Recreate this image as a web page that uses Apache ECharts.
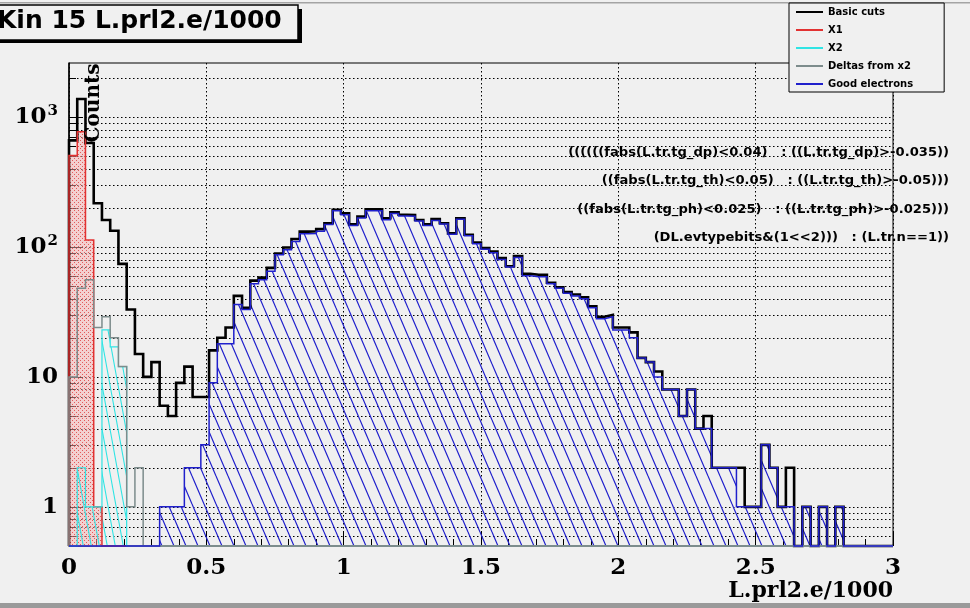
<!DOCTYPE html>
<html>
<head>
<meta charset="utf-8">
<script src="https://cdn.jsdelivr.net/npm/echarts@6/dist/echarts.min.js"></script>
<style>
  html, body { margin: 0; padding: 0; background: #f0f0f0; }
  #main { width: 970px; height: 608px; }
</style>
</head>
<body>
<div id="main"></div>
<script>
// binning of L.prl2.e/1000 : 100 bins of 0.03 starting at 0
const xStart = 0;
const binWidth = 0.03;
const nBins = 100;

// bin contents (counts)
const basicCuts = [
  660, 1375, 630, 217, 161, 133, 74, 33, 15, 10,
  13, 6, 5, 9, 12, 7, 7, 16, 20, 24,
  42, 34, 55, 58, 69, 89, 99, 115, 131, 132,
  137, 152, 193, 181, 149, 171, 195, 195, 166, 185,
  177, 176, 161, 149, 164, 152, 127, 166, 124, 108,
  98, 92, 82, 71, 85, 62, 61, 61, 53, 49,
  45, 43, 41, 35, 29, 30, 24, 24, 22, 14,
  13, 11, 8, 8, 5, 8, 4, 5, 2, 2,
  2, 2, 1, 1, 3, 2, 1, 2, 0, 1,
  0, 1, 0, 1, 0, 0, 0, 0, 0, 0
];
// first bins only, the rest are empty
const x1 = [504, 770, 113, 1];
const x2 = [0, 2, 1, 1, 23, 17, 12];
const deltasFromX2 = [10, 48, 56, 24, 29, 20, 12, 1, 2];
const goodElectrons = [
  0, 0, 0, 0, 0, 0, 0, 0, 0, 0,
  0, 1, 1, 1, 2, 2, 3, 9, 18, 18,
  36, 33, 52, 56, 65, 87, 95, 110, 126, 127,
  132, 149, 190, 177, 146, 167, 190, 190, 162, 181,
  173, 172, 158, 146, 160, 150, 125, 163, 122, 106,
  96, 90, 80, 70, 83, 60, 59, 59, 52, 48,
  44, 42, 40, 34, 28, 29, 23, 23, 20, 14,
  13, 10, 8, 8, 5, 8, 4, 4, 2, 2,
  2, 1, 1, 1, 3, 2, 1, 1, 0, 1,
  0, 1, 0, 1, 0, 0, 0, 0, 0, 0
];

const seriesNames = ['Basic cuts', 'X1', 'X2', 'Deltas from x2', 'Good electrons'];
const yGridValues = [0.6, 0.7, 0.8, 0.9, 1, 2, 3, 4, 5, 6, 7, 8, 9,
  10, 20, 30, 40, 50, 60, 70, 80, 90, 100, 200, 300, 400, 500, 600, 700, 800, 900, 1000, 2000];
const cutLines = [
  '((((((fabs(L.tr.tg_dp)<0.04)   : ((L.tr.tg_dp)>-0.035))',
  '((fabs(L.tr.tg_th)<0.05)   : ((L.tr.tg_th)>-0.05)))',
  '((fabs(L.tr.tg_ph)<0.025)   : ((L.tr.tg_ph)>-0.025)))',
  '(DL.evtypebits&(1<<2)))   : (L.tr.n==1))'
];

const yMin = 0.5;
const yMax = 2600;

// histogram -> step polyline (empty bins sit on the frame bottom)
function stepPoints(vals) {
  const pts = [[xStart, yMin]];
  for (let i = 0; i < nBins; i++) {
    const v = vals[i] > 0 ? vals[i] : yMin;
    pts.push([xStart + i * binWidth, v], [xStart + (i + 1) * binWidth, v]);
  }
  pts.push([xStart + nBins * binWidth, yMin]);
  return pts;
}

function hatch(color, w, h, lw) {
  const c = document.createElement('canvas');
  c.width = w; c.height = h;
  const g = c.getContext('2d');
  g.strokeStyle = color; g.lineWidth = lw;
  g.beginPath();
  [-w, 0, w].forEach(dx => { g.moveTo(dx, 0); g.lineTo(dx + w, h); });
  g.stroke();
  return c;
}

function dots() {
  const c = document.createElement('canvas');
  c.width = 4; c.height = 4;
  const g = c.getContext('2d');
  g.fillStyle = 'rgba(245,175,175,0.5)';
  g.fillRect(0, 0, 4, 4);
  g.fillStyle = 'rgba(225,70,70,0.85)';
  g.fillRect(0, 0, 1, 1);
  g.fillRect(2, 2, 1, 1);
  return c;
}

function histSeries(name, vals, color, width, fill) {
  const s = {
    name: name,
    type: 'line',
    data: stepPoints(vals),
    symbol: 'none',
    showSymbol: false,
    clip: false,
    silent: true,
    animation: false,
    z: 3,
    itemStyle: { color: color },
    lineStyle: { color: color, width: width, join: 'miter', cap: 'butt' }
  };
  if (fill) s.areaStyle = { color: { image: fill, repeat: 'repeat' }, origin: 'start', opacity: 1 };
  return s;
}

const serif = 'DejaVu Serif';
const sans = 'DejaVu Sans';

const chart = echarts.init(document.getElementById('main'), null, { renderer: 'canvas' });

const option = {
  backgroundColor: '#f0f0f0',
  animation: false,
  grid: {
    left: 69, right: 77, top: 63, bottom: 62,
    show: true, borderColor: '#000', borderWidth: 1, backgroundColor: 'transparent'
  },
  legend: {
    left: 789, top: 3, orient: 'vertical',
    padding: [4, 31, 3, 7], itemGap: 8,
    itemWidth: 27, itemHeight: 2, icon: 'rect',
    borderColor: '#000', borderWidth: 1, backgroundColor: '#f0f0f0',
    selectedMode: false,
    textStyle: { fontFamily: sans, fontWeight: 'bold', fontSize: 10, color: '#000' },
    data: seriesNames
  },
  xAxis: {
    type: 'value', min: 0, max: 3, interval: 0.5,
    axisLine: { show: false },
    axisTick: { show: true, inside: true, length: 14, lineStyle: { color: '#000' } },
    minorTick: { show: true, splitNumber: 5, length: 7, lineStyle: { color: '#000' } },
    splitLine: { show: true, lineStyle: { color: '#000', width: 1, type: [1.5, 2.5] } },
    axisLabel: { margin: 11, fontFamily: serif, fontWeight: 'bold', fontSize: 23, color: '#000' }
  },
  yAxis: {
    type: 'log', logBase: 10, min: yMin, max: yMax,
    axisLine: { show: true, lineStyle: { color: '#000', width: 1.5 } },
    axisTick: { show: false },
    splitLine: { show: false },
    axisLabel: {
      margin: 11, showMinLabel: false, showMaxLabel: false,
      formatter: function (v) {
        const e = Math.log10(v);
        const r = Math.round(e);
        if (Math.abs(e - r) > 1e-6) return '';
        if (r === 0) return '{b|1}';
        if (r === 1) return '{b|10}';
        return '{b|10}{s|' + r + '}';
      },
      rich: {
        b: { fontFamily: serif, fontWeight: 'bold', fontSize: 23, color: '#000', lineHeight: 26 },
        s: { fontFamily: serif, fontWeight: 'bold', fontSize: 15, color: '#000', verticalAlign: 'top', lineHeight: 26, padding: [0, 0, 0, 1] }
      }
    }
  },
  graphic: [
    { type: 'rect', shape: { x: 0, y: 2, width: 970, height: 1.5 }, style: { fill: '#a4a4a4' }, silent: true },
    { type: 'rect', shape: { x: 0, y: 603, width: 970, height: 5 }, style: { fill: '#9a9a9a' }, silent: true },
    { type: 'rect', shape: { x: -6, y: 9, width: 308, height: 34 }, style: { fill: '#000' }, silent: true, z: 10 },
    { type: 'rect', shape: { x: -10, y: 5, width: 308, height: 35 }, style: { fill: '#f0f0f0', stroke: '#000', lineWidth: 1.5 }, silent: true, z: 11 },
    { type: 'text', x: -3, y: 21, z: 12, silent: true,
      style: { text: 'Kin 15 L.prl2.e/1000', font: 'bold 25px "DejaVu Sans"', fill: '#000', align: 'left', verticalAlign: 'middle' } },
    { type: 'text', x: 94, y: 103, rotation: Math.PI / 2, z: 20, silent: true,
      style: { text: 'Counts', font: 'bold 20px "DejaVu Serif"', fill: '#000', align: 'center', verticalAlign: 'middle' } },
    { type: 'text', x: 893, y: 591, z: 20, silent: true,
      style: { text: 'L.prl2.e/1000', font: 'bold 22px "DejaVu Serif"', fill: '#000', align: 'right', verticalAlign: 'middle' } }
  ].concat(cutLines.map((t, i) => ({
    type: 'text', x: 949, y: [153, 181, 210, 238][i], scaleX: 1.14, z: 20, silent: true,
    style: { text: t, font: 'bold 11.5px "DejaVu Sans"', fill: '#000', align: 'right', verticalAlign: 'middle' }
  }))),
  series: [
    {
      // dotted horizontal grid + inner ticks of the log axis
      type: 'custom',
      silent: true,
      z: 1,
      clip: false,
      data: yGridValues.map(v => [0, v]),
      renderItem: function (params, api) {
        const v = api.value(1);
        const y = Math.round(api.coord([0, v])[1]) + 0.5;
        const cs = params.coordSys;
        const e = Math.log10(v);
        const major = Math.abs(e - Math.round(e)) < 1e-9;
        return {
          type: 'group',
          children: [
            { type: 'line', shape: { x1: cs.x, y1: y, x2: cs.x + cs.width, y2: y },
              style: { stroke: '#000', lineWidth: 1, lineDash: [1.5, 2.5] } },
            { type: 'line', shape: { x1: cs.x, y1: y, x2: cs.x + (major ? 14 : 7), y2: y },
              style: { stroke: '#000', lineWidth: 1 } }
          ]
        };
      }
    },
    histSeries(seriesNames[0], basicCuts, '#000000', 2.6, null),
    histSeries(seriesNames[1], x1, '#e23232', 1.5, dots()),
    histSeries(seriesNames[2], x2, '#30e4e4', 1.2, hatch('#30e4e4', 8, 44, 1.1)),
    histSeries(seriesNames[3], deltasFromX2, '#7d8c8c', 1.5, null),
    histSeries(seriesNames[4], goodElectrons, '#2020cc', 1.5, hatch('#2020cc', 12, 28, 1.2))
  ]
};

chart.setOption(option);
</script>
</body>
</html>
